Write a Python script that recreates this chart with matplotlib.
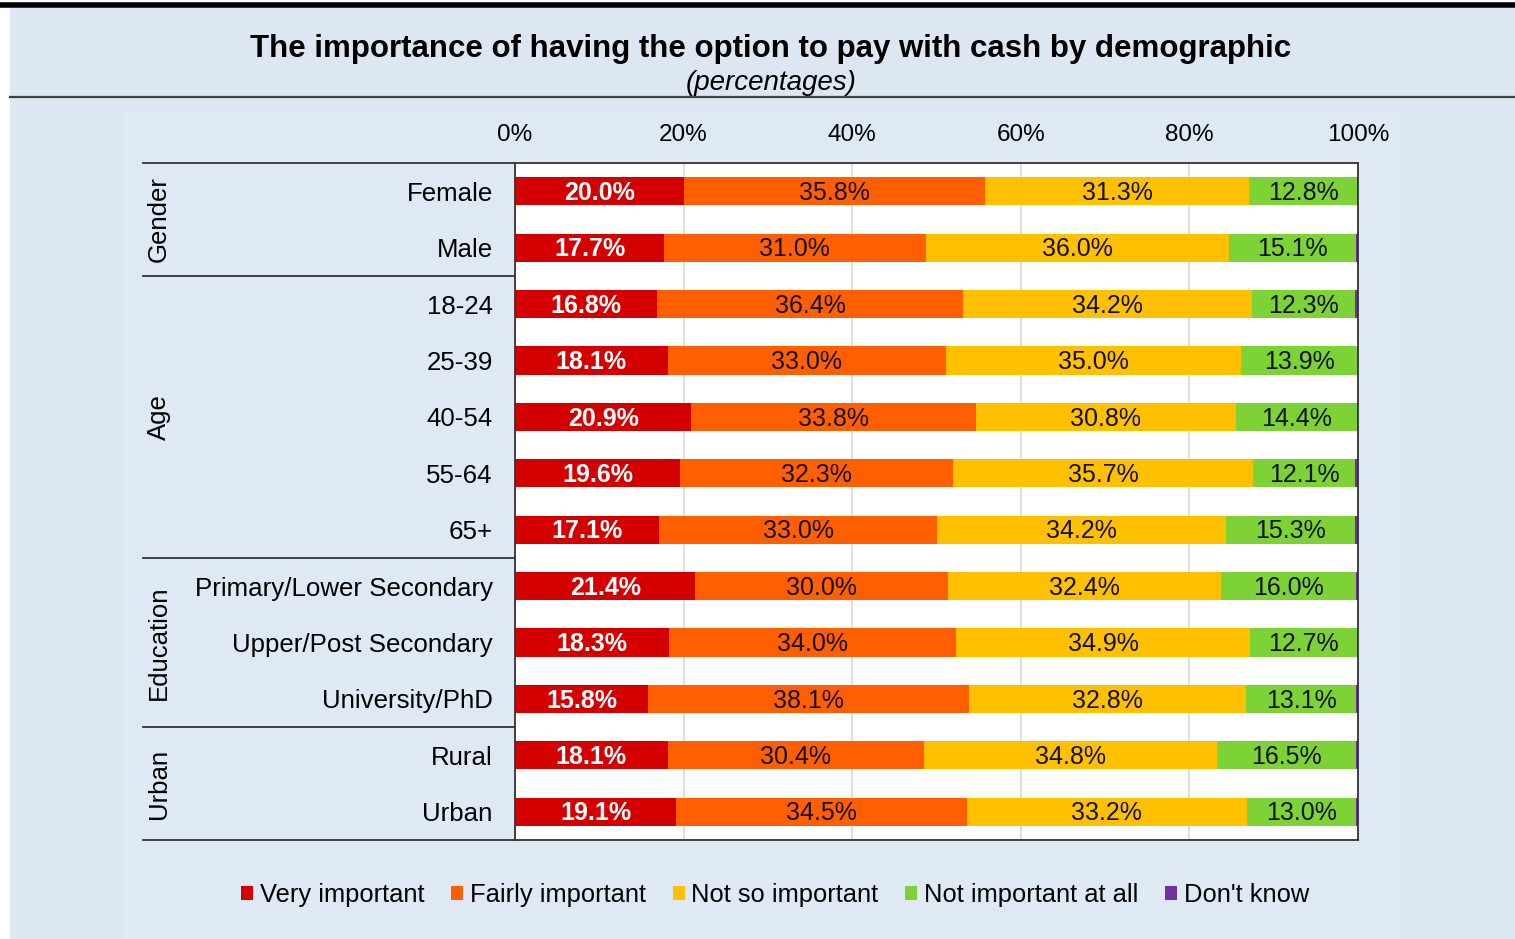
import matplotlib.pyplot as plt
from matplotlib.patches import Patch, Rectangle
from matplotlib.lines import Line2D
from matplotlib.transforms import blended_transform_factory
import numpy as np

plt.rcParams['font.family'] = ['Liberation Sans', 'DejaVu Sans']

categories = ["Female", "Male", "18-24", "25-39", "40-54", "55-64", "65+",
              "Primary/Lower Secondary", "Upper/Post Secondary", "University/PhD",
              "Rural", "Urban"]
groups = ["Gender", "Age", "Education", "Urban"]
group_sizes = [2, 5, 3, 2]

series_names = ["Very important", "Fairly important", "Not so important",
                "Not important at all", "Don't know"]
very = [20.0, 17.7, 16.8, 18.1, 20.9, 19.6, 17.1, 21.4, 18.3, 15.8, 18.1, 19.1]
fairly = [35.8, 31.0, 36.4, 33.0, 33.8, 32.3, 33.0, 30.0, 34.0, 38.1, 30.4, 34.5]
not_so = [31.3, 36.0, 34.2, 35.0, 30.8, 35.7, 34.2, 32.4, 34.9, 32.8, 34.8, 33.2]
not_at_all = [12.8, 15.1, 12.3, 13.9, 14.4, 12.1, 15.3, 16.0, 12.7, 13.1, 16.5, 13.0]
dont_know = [0.1, 0.2, 0.3, 0.0, 0.1, 0.3, 0.4, 0.2, 0.1, 0.2, 0.2, 0.2]
ticks = [0, 20, 40, 60, 80, 100]

colors = ["#D40000", "#FF5F00", "#FFC000", "#7DD236", "#7030A0"]
bg = "#DCE7F1"

W, H = 1515, 939
fig = plt.figure(figsize=(W / 100, H / 100), dpi=100)
fig.patch.set_facecolor("white")

# panel background + slightly lighter inner box (behind the axes)
fig.patches.append(Rectangle((10 / W, 0), 1 - 10 / W, 1 - 8 / H, transform=fig.transFigure,
                             facecolor=bg, edgecolor="none", zorder=-3))
fig.patches.append(Rectangle((123 / W, 0), (1400 - 123) / W, 1 - 112 / H, transform=fig.transFigure,
                             facecolor="#DEE9F3", edgecolor="none", zorder=-2))
fig.lines.append(Line2D([0, 1], [1 - 5 / H, 1 - 5 / H], transform=fig.transFigure,
                        color="black", lw=4))
fig.lines.append(Line2D([10 / W, 1], [1 - 96.5 / H, 1 - 96.5 / H], transform=fig.transFigure,
                        color="#404040", lw=1.6))

fig.text(771 / W, 1 - 49 / H, "The importance of having the option to pay with cash by demographic",
         ha="center", va="center", fontsize=22.5, fontweight="bold")
fig.text(771 / W, 1 - 83 / H, "(percentages)", ha="center", va="center",
         fontsize=20, style="italic")

left, right, top, bottom = 515, 1358, 163, 840
ax = fig.add_axes([left / W, 1 - bottom / H, (right - left) / W, (bottom - top) / H])
ax.set_facecolor("white")

y = np.arange(len(categories))
data = [very, fairly, not_so, not_at_all, dont_know]
cum = np.zeros(len(categories))
for i, (vals, name, c) in enumerate(zip(data, series_names, colors)):
    vals = np.array(vals)
    ax.barh(y, vals, left=cum, height=0.5, color=c, label=name, zorder=2)
    if i < 4:
        for yy, l, v in zip(y, cum, vals):
            ax.text(l + v / 2, yy + 0.03, f"{v:.1f}%", ha="center", va="center",
                    color="white" if i == 0 else "#111111",
                    fontweight="bold" if i == 0 else "normal", fontsize=18, zorder=3)
    cum += vals

ax.set_xlim(0, 100)
ax.set_ylim(len(categories) - 0.5, -0.5)
ax.set_xticks(ticks)
ax.set_xticklabels([f"{t}%" for t in ticks])
ax.xaxis.tick_top()
ax.tick_params(axis="x", length=0, pad=12.5, labelsize=17.5)
ax.set_yticks(y)
ax.set_yticklabels(categories)
ax.tick_params(axis="y", length=0, pad=16, labelsize=18.6)
ax.grid(axis="x", color="#D9D9D9", lw=1.2, zorder=0)
ax.set_axisbelow(True)
for s in ax.spines.values():
    s.set_color("#333333")
    s.set_linewidth(1.3)

# group separators and group labels
tr = blended_transform_factory(ax.transAxes, ax.transData)
x0 = (143 - left) / (right - left)
start = 0
bounds = [-0.5]
for g, n in zip(groups, group_sizes):
    mid = start + (n - 1) / 2
    ax.text(x0 + 0.019, mid, g, transform=tr, rotation=90, ha="center", va="center",
            fontsize=18.5)
    start += n
    bounds.append(start - 0.5)
for b in bounds:
    ax.plot([x0, 0], [b, b], transform=tr, color="#333333", lw=1.3, clip_on=False)

handles = [Patch(facecolor=c, edgecolor="none") for c in colors]
fig.legend(handles, series_names, loc="center", bbox_to_anchor=(775 / W, 1 - 895 / H),
           ncol=5, frameon=False, fontsize=18.4, handlelength=0.48, handleheight=0.48,
           handletextpad=0.25, columnspacing=1.05)

fig.savefig("out.png", dpi=100, facecolor=fig.get_facecolor())
